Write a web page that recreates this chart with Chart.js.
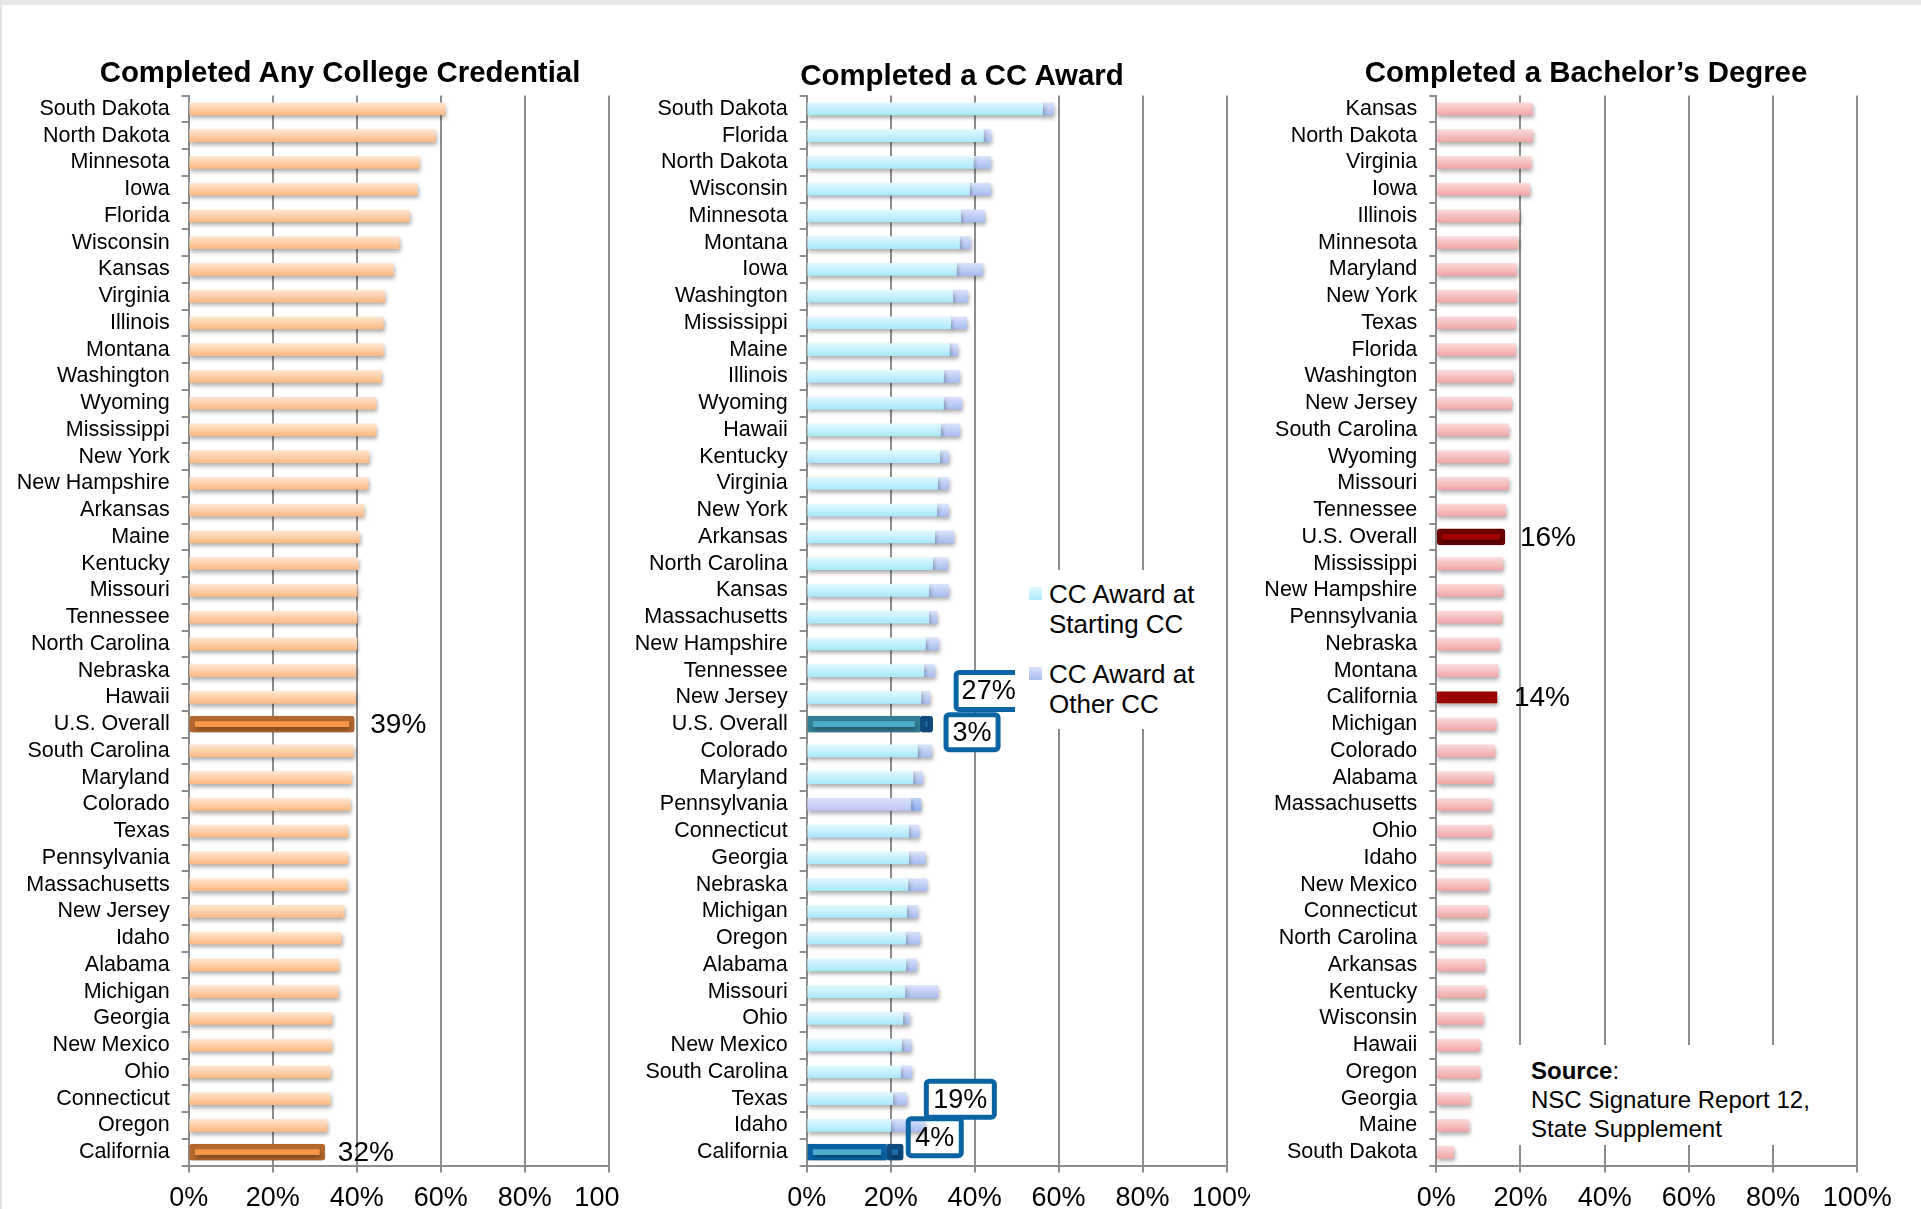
<!DOCTYPE html>
<html>
<head>
<meta charset="utf-8">
<script src="https://cdn.jsdelivr.net/npm/chart.js"></script>
<style>
  body { margin: 0; width: 1921px; height: 1209px; background: #fff; position: relative; overflow: hidden;
         font-family: "Liberation Sans", Arial, sans-serif; color: #000; }
  .topband { position: absolute; left: 0; top: 0; width: 1921px; height: 5px; background: #e6e6e6; }
  .leftband { position: absolute; left: 0; top: 0; width: 2px; height: 1209px; background: #e3e3e3; }
  .frame { position: absolute; top: 0; height: 1209px; overflow: hidden; }
  .frame canvas { position: absolute; left: 0; top: 0; }
  .title { position: absolute; width: 640px; text-align: center; font-weight: bold; font-size: 29.4px; line-height: 34px; }
  .legend { position: absolute; left: 1015px; top: 570px; width: 200px; height: 159px; background: #fff; }
  .leg-item { position: absolute; left: 34px; font-size: 26px; line-height: 30px; }
  .leg-sw { position: absolute; left: 14px; width: 13px; height: 13px; }
  .source { position: absolute; left: 1518px; top: 1045px; width: 334px; height: 100px; background: #fff; }
  .source div { position: absolute; left: 13px; top: 11px; font-size: 24px; line-height: 29px; }
</style>
</head>
<body>
<div class="topband"></div>
<div class="leftband"></div>

<div class="frame" style="left:0;width:620px"><canvas id="chart-any" width="655" height="1209"></canvas></div>
<div class="frame" style="left:620px;width:630px"><canvas id="chart-cc" width="653" height="1209"></canvas></div>
<div class="frame" style="left:1250px;width:671px"><canvas id="chart-ba" width="671" height="1209"></canvas></div>

<div class="title" style="left:20px;top:55px">Completed Any College Credential</div>
<div class="title" style="left:642px;top:58px">Completed a CC Award</div>
<div class="title" style="left:1266px;top:55px">Completed a Bachelor’s Degree</div>

<div class="legend">
  <div class="leg-sw" style="top:17px;background:linear-gradient(#e2f9ff,#aee9fa)"></div>
  <div class="leg-item" style="top:9px">CC Award at<br>Starting CC</div>
  <div class="leg-sw" style="top:97px;background:linear-gradient(#dbe3fa,#a9bdf1)"></div>
  <div class="leg-item" style="top:89px">CC Award at<br>Other CC</div>
</div>

<div class="source"><div><b>Source</b>:<br>NSC Signature Report 12,<br>State Supplement</div></div>

<script>
// Three horizontal bar panels — completion rates by state

const FONT = '"Liberation Sans", Arial, sans-serif';
Chart.defaults.font.family = FONT;
Chart.defaults.color = '#000';

const PLOT_TOP = 95.5;
const PLOT_BOTTOM = 1165.5;
const H = 1209;
const GRID = '#8c8c8c';

const xTicks = [0, 20, 40, 60, 80, 100];

// Completed Any College Credential
const anyStates = ['South Dakota', 'North Dakota', 'Minnesota', 'Iowa', 'Florida', 'Wisconsin', 'Kansas', 'Virginia',
  'Illinois', 'Montana', 'Washington', 'Wyoming', 'Mississippi', 'New York', 'New Hampshire', 'Arkansas', 'Maine',
  'Kentucky', 'Missouri', 'Tennessee', 'North Carolina', 'Nebraska', 'Hawaii', 'U.S. Overall', 'South Carolina',
  'Maryland', 'Colorado', 'Texas', 'Pennsylvania', 'Massachusetts', 'New Jersey', 'Idaho', 'Alabama', 'Michigan',
  'Georgia', 'New Mexico', 'Ohio', 'Connecticut', 'Oregon', 'California'];
const anyValues = [61.0, 58.7, 54.8, 54.4, 52.5, 50.1, 48.7, 46.7, 46.3, 46.3, 45.8, 44.6, 44.6, 42.9, 42.7, 41.7, 40.6,
  40.3, 40.1, 40.1, 40.0, 39.8, 39.7, 39.4, 39.2, 38.7, 38.4, 37.9, 37.9, 37.7, 37.0, 36.3, 35.8, 35.6, 34.1, 34.1,
  33.7, 33.7, 32.9, 32.4];
const anyHighlight = [23, 39];
const anyLabels = [
  { text: '39%', row: 23, value: 39.4, dx: 16 },
  { text: '32%', row: 39, value: 32.4, dx: 13 },
];

// Completed a CC Award (starting CC + other CC)
const ccStates = ['South Dakota', 'Florida', 'North Dakota', 'Wisconsin', 'Minnesota', 'Montana', 'Iowa', 'Washington',
  'Mississippi', 'Maine', 'Illinois', 'Wyoming', 'Hawaii', 'Kentucky', 'Virginia', 'New York', 'Arkansas',
  'North Carolina', 'Kansas', 'Massachusetts', 'New Hampshire', 'Tennessee', 'New Jersey', 'U.S. Overall', 'Colorado',
  'Maryland', 'Pennsylvania', 'Connecticut', 'Georgia', 'Nebraska', 'Michigan', 'Oregon', 'Alabama', 'Missouri', 'Ohio',
  'New Mexico', 'South Carolina', 'Texas', 'Idaho', 'California'];
const ccStarting = [56.2, 42.1, 39.7, 38.8, 36.7, 36.4, 35.7, 34.8, 34.3, 34.0, 32.6, 32.6, 31.9, 31.7, 31.2, 31.0, 30.5,
  30.0, 29.1, 29.1, 28.3, 27.9, 27.2, 27.0, 26.4, 25.3, 24.8, 24.3, 24.3, 24.1, 23.8, 23.6, 23.6, 23.4, 22.9, 22.6,
  22.4, 20.5, 20.0, 19.0];
const ccOther = [2.6, 1.7, 4.1, 5.0, 5.7, 2.6, 6.2, 3.5, 3.8, 1.9, 3.8, 4.3, 4.5, 2.1, 2.6, 2.8, 4.5, 3.6, 4.7, 1.9, 3.1,
  2.6, 2.1, 3.0, 3.4, 2.3, 2.4, 2.4, 4.0, 4.5, 2.6, 3.3, 2.6, 7.8, 1.6, 2.2, 2.6, 3.3, 8.0, 4.0];
const ccHighlight = [23, 39];
const ccOddRow = 26; // Pennsylvania is drawn in bluer tones
const ccBoxes = [
  { text: '27%', left: 35.0, row: 21.76, w: 70, h: 42, fill: true },
  { text: '3%', left: 32.6, row: 23.3, w: 57, h: 40, fill: true },
  { text: '19%', left: 27.9, row: 37.02, w: 73, h: 41, fill: true },
  { text: '4%', left: 23.6, row: 38.44, w: 58, h: 42, fill: false },
];

// Completed a Bachelor's Degree
const baStates = ['Kansas', 'North Dakota', 'Virginia', 'Iowa', 'Illinois', 'Minnesota', 'Maryland', 'New York', 'Texas',
  'Florida', 'Washington', 'New Jersey', 'South Carolina', 'Wyoming', 'Missouri', 'Tennessee', 'U.S. Overall',
  'Mississippi', 'New Hampshire', 'Pennsylvania', 'Nebraska', 'Montana', 'California', 'Michigan', 'Colorado', 'Alabama',
  'Massachusetts', 'Ohio', 'Idaho', 'New Mexico', 'Connecticut', 'North Carolina', 'Arkansas', 'Kentucky', 'Wisconsin',
  'Hawaii', 'Oregon', 'Georgia', 'Maine', 'South Dakota'];
const baValues = [22.9, 22.9, 22.5, 22.2, 19.7, 19.4, 19.1, 19.1, 18.9, 18.9, 18.2, 17.9, 17.2, 17.2, 17.2, 16.5, 16.3,
  15.8, 15.8, 15.6, 15.1, 14.6, 14.4, 14.2, 13.9, 13.5, 13.2, 13.2, 13.0, 12.5, 12.3, 12.0, 11.6, 11.6, 11.1, 10.4,
  10.4, 8.0, 7.7, 4.1];
const baOverall = 16;
const baState = 22;
const baLabels = [
  { text: '16%', row: 16, value: 16.3, dx: 15 },
  { text: '14%', row: 22, value: 14.4, dx: 17 },
];

function only(values, rows) {
  return values.map((v, i) => (rows.includes(i) ? v : null));
}
function except(values, rows) {
  return values.map((v, i) => (rows.includes(i) ? null : v));
}

// vertical gradient per bar, lighter on top
function barGradient(top, bottom, half, alt) {
  return (c) => {
    const chart = c.chart;
    const ys = chart.scales.y;
    let colors = [top, bottom];
    if (alt && c.dataIndex === alt.row) colors = alt.colors;
    if (!ys || c.type !== 'data') return colors[1];
    const y = ys.getPixelForValue(c.dataIndex);
    if (!isFinite(y)) return colors[1];
    const g = chart.ctx.createLinearGradient(0, y - half, 0, y + half);
    g.addColorStop(0, colors[0]);
    g.addColorStop(1, colors[1]);
    return g;
  };
}

const barShadow = {
  id: 'barShadow',
  beforeDatasetsDraw(chart) {
    const ctx = chart.ctx;
    ctx.save();
    ctx.shadowColor = 'rgba(0,0,0,0.32)';
    ctx.shadowBlur = 4;
    ctx.shadowOffsetX = 1;
    ctx.shadowOffsetY = 3;
  },
  afterDatasetsDraw(chart) {
    chart.ctx.restore();
  },
};

const callouts = {
  id: 'callouts',
  afterDraw(chart, args, opts) {
    const { ctx } = chart;
    const xs = chart.scales.x;
    const ys = chart.scales.y;
    ctx.save();
    ctx.textBaseline = 'middle';
    ctx.fillStyle = '#000';
    ctx.font = `28px ${FONT}`;
    ctx.textAlign = 'left';
    for (const l of opts.labels || []) {
      ctx.fillText(l.text, xs.getPixelForValue(l.value) + l.dx, ys.getPixelForValue(l.row) + 1);
    }
    ctx.font = `27px ${FONT}`;
    for (const b of opts.boxes || []) {
      const bx = xs.getPixelForValue(b.left);
      const cy = ys.getPixelForValue(b.row);
      ctx.beginPath();
      if (ctx.roundRect) ctx.roundRect(bx + 2.5, cy - b.h / 2 + 2.5, b.w - 5, b.h - 5, 3);
      else ctx.rect(bx + 2.5, cy - b.h / 2 + 2.5, b.w - 5, b.h - 5);
      if (b.fill) { ctx.fillStyle = '#fff'; ctx.fill(); }
      ctx.lineWidth = 5;
      ctx.strokeStyle = '#0a64a4';
      ctx.stroke();
      ctx.fillStyle = '#000';
      ctx.textAlign = 'center';
      ctx.fillText(b.text, bx + b.w / 2, cy + 1);
    }
    ctx.restore();
  },
};

function makeChart(id, cfg) {
  return new Chart(document.getElementById(id), {
    type: 'bar',
    data: { labels: cfg.labels, datasets: cfg.datasets },
    options: {
      indexAxis: 'y',
      responsive: false,
      animation: false,
      layout: { padding: { top: PLOT_TOP, right: cfg.right, left: 0, bottom: 0 } },
      plugins: { legend: { display: false }, tooltip: { enabled: false }, callouts: cfg.callouts },
      scales: {
        x: {
          stacked: true,
          min: 0,
          max: 100,
          afterBuildTicks: (s) => { s.ticks = xTicks.map((v) => ({ value: v })); },
          ticks: { callback: (v) => `${v}%`, font: { size: 27 }, color: '#000', padding: 10, maxRotation: 0 },
          grid: { color: GRID, lineWidth: 2, tickLength: 7 },
          border: { color: GRID, width: 2 },
          afterFit: (s) => { s.height = H - PLOT_BOTTOM; },
        },
        y: {
          stacked: true,
          ticks: { font: { size: 21.5 }, color: '#000', padding: 12, autoSkip: false },
          grid: { drawOnChartArea: false, color: GRID, lineWidth: 2, tickLength: 7 },
          border: { color: GRID, width: 2 },
          afterFit: (s) => { s.width = cfg.x0; },
        },
      },
    },
    plugins: [barShadow, callouts],
  });
}

makeChart('chart-any', {
  labels: anyStates,
  x0: 188.7,
  right: 46.1,
  callouts: { labels: anyLabels },
  datasets: [
    { data: except(anyValues, anyHighlight), backgroundColor: barGradient('#ffe6d1', '#fcb983', 6), barThickness: 12 },
    { data: only(anyValues, anyHighlight), backgroundColor: '#f79646', borderColor: '#b4672d', borderWidth: 5.5,
      borderSkipped: false, borderRadius: 3, barThickness: 16 },
  ],
});

makeChart('chart-cc', {
  labels: ccStates,
  x0: 186.7,
  right: 46.5,
  callouts: { boxes: ccBoxes },
  datasets: [
    { data: except(ccStarting, ccHighlight), barThickness: 12,
      backgroundColor: barGradient('#e0f9ff', '#a9e8fa', 6, { row: ccOddRow, colors: ['#dadff9', '#bcc6f3'] }) },
    { data: except(ccOther, ccHighlight), barThickness: 12,
      backgroundColor: barGradient('#d9e2fa', '#a8bcf1', 6, { row: ccOddRow, colors: ['#bcd0f8', '#8fb0ef'] }) },
    { data: only(ccStarting, ccHighlight), barThickness: 16, borderWidth: 5.5, borderSkipped: false, borderRadius: 2,
      backgroundColor: '#4bacc6', borderColor: ccStates.map((s) => (s === 'California' ? '#0b63a6' : '#337f93')) },
    { data: only(ccOther, ccHighlight), barThickness: 16, borderWidth: 5.5, borderSkipped: false, borderRadius: 3,
      backgroundColor: '#1f6dad', borderColor: '#0d4a7e' },
  ],
});

makeChart('chart-ba', {
  labels: baStates,
  x0: 186.3,
  right: 63.8,
  callouts: { labels: baLabels },
  datasets: [
    { data: except(baValues, [baOverall, baState]), backgroundColor: barGradient('#fbdada', '#f0a6a7', 6), barThickness: 12 },
    { data: only(baValues, [baOverall]), backgroundColor: '#a30000', borderColor: '#6d0000', borderWidth: 5.5,
      borderSkipped: false, borderRadius: 3, barThickness: 16 },
    { data: only(baValues, [baState]), backgroundColor: '#9b0000', barThickness: 11 },
  ],
});
</script>
</body>
</html>
